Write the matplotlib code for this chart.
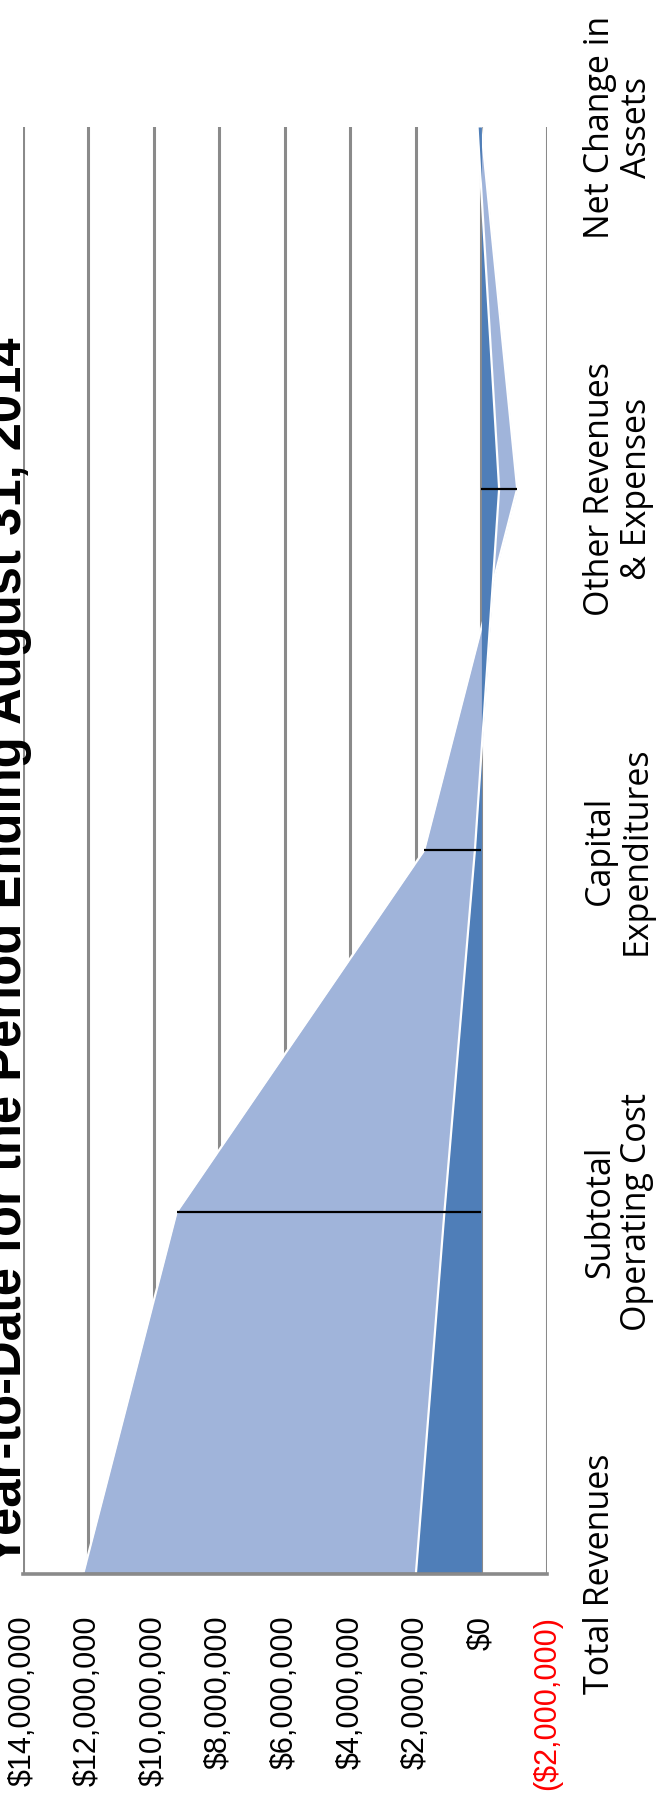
import matplotlib
matplotlib.use("Agg")
import matplotlib.pyplot as plt
from matplotlib.ticker import FixedLocator

# ---- data (values in dollars) ----
categories = ["Total Revenues", "Subtotal\nOperating Cost", "Capital\nExpenditures",
              "Other Revenues\n& Expenses", "Net Change in\nAssets"]
budget = [12150000, 9300000, 1750000, -1090000, 10000]
actual = [2000000, 1130000, 200000, -540000, 120000]
value_ticks = [14000000, 12000000, 10000000, 8000000, 6000000, 4000000, 2000000, 0, -2000000]
value_tick_labels = ["$14,000,000", "$12,000,000", "$10,000,000", "$8,000,000", "$6,000,000",
                     "$4,000,000", "$2,000,000", "$0", "($2,000,000)"]
title = "Year-to-Date for the Period Ending August 31, 2014"

W, H = 669, 1810
fig = plt.figure(figsize=(W / 100, H / 100), dpi=100)
fig.patch.set_facecolor("white")

left_px, right_px, top_px, bottom_px = 22.5, 547, 127, 1574
ax = fig.add_axes([left_px / W, (H - bottom_px) / H, (right_px - left_px) / W, (bottom_px - top_px) / H])

pos = list(range(len(categories)))
light = "#A0B4DA"
dark = "#4F7EB8"
grid_c = "#8A8A8A"

# areas (rotated chart: value on horizontal axis, category on vertical axis)
ax.fill_betweenx(pos, 0, budget, color=light, lw=0, zorder=2)
ax.plot(budget, pos, color="white", lw=1.6, zorder=3, solid_capstyle="butt")
ax.fill_betweenx(pos, 0, actual, color=dark, lw=0, zorder=4)
ax.plot(actual, pos, color="white", lw=1.6, zorder=5, solid_capstyle="butt")

# drop lines
ax.hlines(pos, 0, budget, colors="black", lw=1.6, zorder=6)

ax.set_xlim(14000000, -2000000)
ax.set_ylim(0, len(categories) - 1)

# gridlines
ax.xaxis.set_major_locator(FixedLocator(value_ticks))
ax.grid(axis="x", color=grid_c, lw=2.2, zorder=1)
ax.set_axisbelow(True)
ax.grid(axis="y", visible=False)

for s in ["top", "left", "right"]:
    ax.spines[s].set_visible(False)
ax.spines["bottom"].set_color(grid_c)
ax.spines["bottom"].set_linewidth(2.6)
ax.spines["bottom"].set_zorder(10)

# value tick labels (rotated)
ax.set_xticks(value_ticks)
ax.set_xticklabels(value_tick_labels, rotation=90, fontsize=22,
                   family=["Liberation Sans", "DejaVu Sans"], ha="center", va="top")
ax.tick_params(axis="x", length=0, pad=30)
for lbl, v in zip(ax.get_xticklabels(), value_ticks):
    if v < 0:
        lbl.set_color("#FF0000")

# category labels on the right side
ax.yaxis.tick_right()
ax.set_yticks(pos)
ax.set_yticklabels(categories, rotation=90, fontsize=24.5,
                   family=["Open Sans", "DejaVu Sans"], ha="left", va="center",
                   multialignment="center", linespacing=1.1)
ax.tick_params(axis="y", length=0, pad=26)

# title (rotated, partly cut at left edge as in the reference)
fig.text(21 / W, (H - 1566) / H, title, rotation=90, rotation_mode="anchor",
         ha="left", va="baseline", fontsize=36.5, fontweight="bold",
         family=["Liberation Sans", "DejaVu Sans"])

fig.savefig("out.png", dpi=100, facecolor="white")
